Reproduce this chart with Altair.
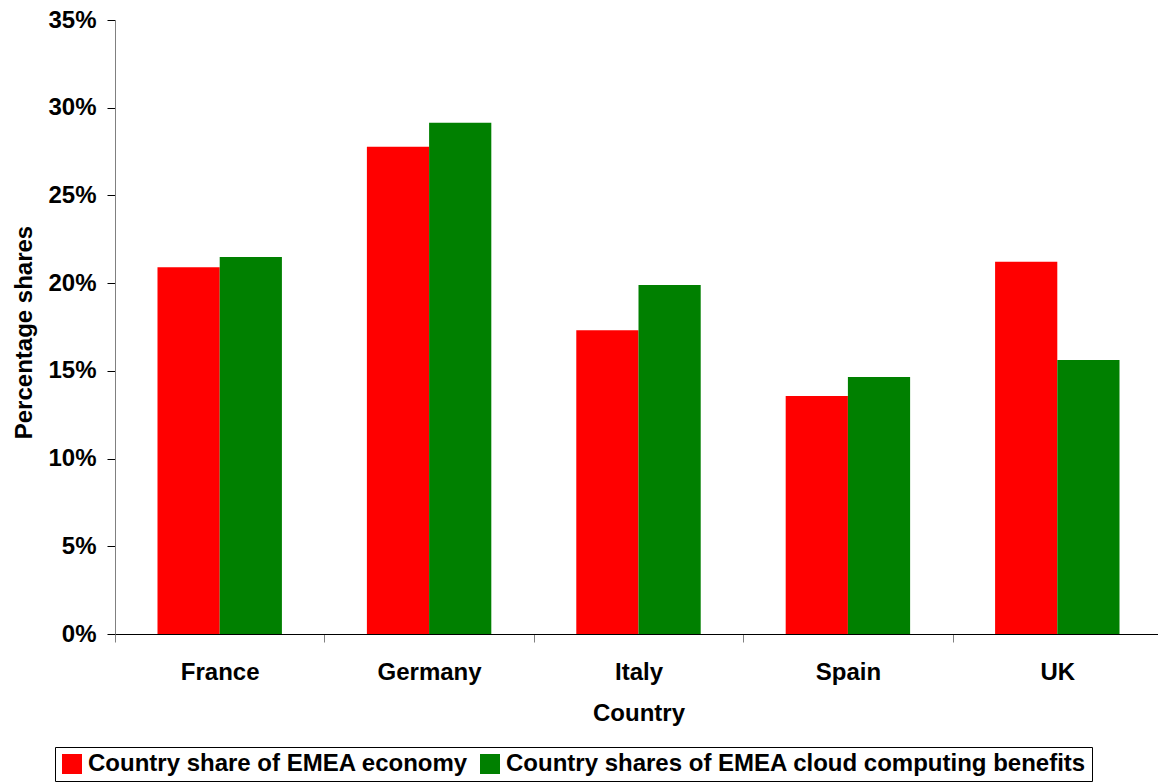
import altair as alt
import pandas as pd

countries = ["France", "Germany", "Italy", "Spain", "UK"]
series = ["Country share of EMEA economy",
          "Country shares of EMEA cloud computing benefits"]
economy = [0.2090, 0.2778, 0.1731, 0.1357, 0.2122]
cloud = [0.2149, 0.2915, 0.1989, 0.1465, 0.1562]
colors = ["#FF0000", "#008000"]
y_ticks = [0, 0.05, 0.10, 0.15, 0.20, 0.25, 0.30, 0.35]

rows = []
for i, c in enumerate(countries):
    rows.append({"Country": c, "Series": series[0], "Share": economy[i]})
    rows.append({"Country": c, "Series": series[1], "Share": cloud[i]})
df = pd.DataFrame(rows)

FONT = "Liberation Sans"

chart = alt.Chart(df).mark_bar().encode(
    x=alt.X(
        "Country:N", sort=countries,
        scale=alt.Scale(range=[0, 1047], paddingInner=0, paddingOuter=0),
        axis=alt.Axis(
            title="Country", labelAngle=0, tickBand="extent",
            tickSize=8, tickColor="#808080", domainColor="#000000",
            labelFont=FONT, labelFontSize=24, labelFontWeight="bold",
            labelColor="#000000", labelPadding=18,
            titleFont=FONT, titleFontSize=24, titleFontWeight="bold",
            titleColor="#000000", titleY=86, titleBaseline="alphabetic",
        ),
    ),
    xOffset=alt.XOffset(
        "Series:N", sort=series,
        scale=alt.Scale(paddingInner=0, paddingOuter=0.683),
    ),
    y=alt.Y(
        "Share:Q",
        scale=alt.Scale(domain=[0, 0.35], nice=False),
        axis=alt.Axis(
            values=y_ticks, format=".0%", grid=False,
            title="Percentage shares",
            tickSize=8, tickColor="#000000", domainColor="#808080",
            labelFont=FONT, labelFontSize=24, labelFontWeight="bold",
            labelColor="#000000", labelPadding=11,
            titleFont=FONT, titleFontSize=24, titleFontWeight="bold",
            titleColor="#000000", titleX=-84, titleY=312,
            titleBaseline="alphabetic",
        ),
    ),
    color=alt.Color(
        "Series:N",
        scale=alt.Scale(domain=series, range=colors),
        legend=alt.Legend(
            title=None, orient="none", legendX=-60, legendY=727,
            direction="horizontal", columns=2,
            symbolType="square", symbolSize=400, symbolStrokeWidth=0,
            labelFont=FONT, labelFontSize=24, labelFontWeight="bold",
            labelColor="#000000", labelLimit=0, labelOffset=4,
            columnPadding=9, padding=5,
            strokeColor="#000000",
        ),
    ),
).properties(
    width=1043, height=614,
    autosize=alt.AutoSizeParams(type="none"),
    padding={"left": 115, "top": 20, "right": 0, "bottom": 149},
).configure_view(stroke=None)

chart.save("out.html", embed_options={"renderer": "svg", "actions": False})
